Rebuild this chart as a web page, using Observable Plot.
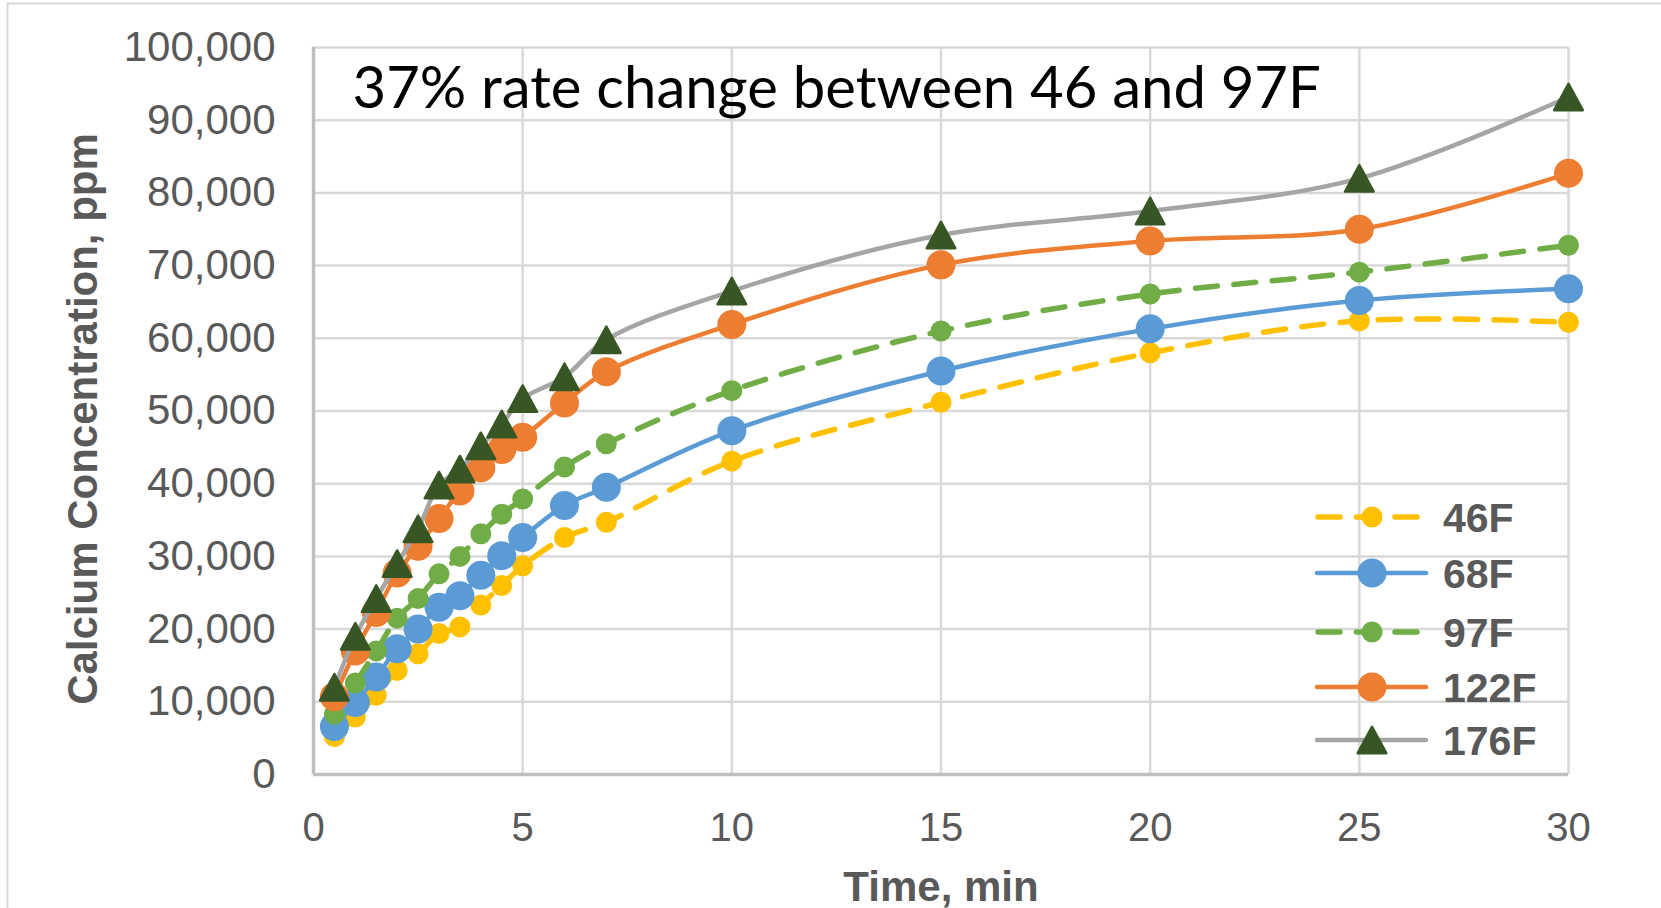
<!DOCTYPE html>
<html>
<head>
<meta charset="utf-8">
<script src="https://cdn.jsdelivr.net/npm/d3@7"></script>
<script src="https://cdn.jsdelivr.net/npm/@observablehq/plot@0.6"></script>
<style>
  html, body { margin: 0; padding: 0; background: white; }
  #chart { width: 1661px; height: 908px; }
</style>
</head>
<body>
<div id="chart"></div>
<script>
// ---- data ----
const titleText = "37% rate change between 46 and 97F";
const xLabel = "Time, min";
const yLabel = "Calcium Concentration, ppm";
const xTicks = [0, 5, 10, 15, 20, 25, 30];
const yTicks = [0, 10000, 20000, 30000, 40000, 50000, 60000, 70000, 80000, 90000, 100000];
const times = [0.5, 1, 1.5, 2, 2.5, 3, 3.5, 4, 4.5, 5, 6, 7, 10, 15, 20, 25, 30];
const seriesNames = ["46F", "68F", "97F", "122F", "176F"];
const ca46F  = [5200, 7900, 10900, 14300, 16600, 19400, 20300, 23300, 26000, 28700, 32600, 34700, 43100, 51200, 58000, 62400, 62200];
const ca68F  = [6600, 9900, 13400, 17300, 20000, 23000, 24600, 27400, 30100, 32600, 37000, 39500, 47300, 55500, 61300, 65200, 66800];
const ca97F  = [8300, 12600, 17000, 21500, 24200, 27600, 30000, 33100, 35800, 37900, 42300, 45500, 52800, 61000, 66100, 69100, 72800];
const ca122F = [10700, 17000, 22300, 27700, 31400, 35200, 39000, 42200, 44700, 46400, 51100, 55400, 61900, 70100, 73400, 75000, 82700];
const ca176F = [12000, 19000, 24200, 29000, 33800, 39800, 42000, 45200, 48200, 51700, 54700, 59800, 66500, 74200, 77500, 82000, 93200];

// ---- styles ----
const seriesValues = [ca46F, ca68F, ca97F, ca122F, ca176F];
const styles = {
  "46F":  {line: "#FFC000", marker: "#FFC000", dash: "22,16.5", width: 5.5, symbol: "circle", r: 10.5},
  "68F":  {line: "#5B9BD5", marker: "#5B9BD5", dash: null, width: 4.5, symbol: "circle", r: 14.5},
  "97F":  {line: "#70AD47", marker: "#70AD47", dash: "22,16.5", width: 5.5, symbol: "circle", r: 10.5},
  "122F": {line: "#ED7D31", marker: "#ED7D31", dash: null, width: 4.5, symbol: "circle", r: 14.5},
  "176F": {line: "#A5A5A5", marker: "#375623", dash: null, width: 4.5, symbol: "triangle", r: 11}
};

// triangle centred on its bounding box (like Excel markers)
const boxTriangle = {
  draw(context, size) {
    const r = Math.sqrt(size / Math.PI);
    const hw = 1.3 * r, hh = 1.2 * r;
    context.moveTo(0, -hh);
    context.lineTo(hw, hh);
    context.lineTo(-hw, hh);
    context.closePath();
  }
};

const rows = [];
seriesNames.forEach((s, i) => {
  times.forEach((t, j) => rows.push({series: s, t, ca: seriesValues[i][j]}));
});

const seriesMarks = [];
seriesNames.forEach(s => {
  const st = styles[s];
  const d = rows.filter(r => r.series === s);
  seriesMarks.push(Plot.line(d, {
    x: "t", y: "ca", stroke: st.line, strokeWidth: st.width,
    strokeDasharray: st.dash || undefined, strokeLinecap: "round", strokeLinejoin: "round",
    curve: "catmull-rom"
  }));
  seriesMarks.push(Plot.dot(d, {
    x: "t", y: "ca", fill: st.marker, stroke: st.marker, strokeWidth: st.symbol === "triangle" ? 2.5 : 0,
    strokeLinejoin: "round",
    r: st.r, symbol: st.symbol === "triangle" ? boxTriangle : "circle"
  }));
});

const chart = Plot.plot({
  width: 1661,
  height: 908,
  marginLeft: 313,
  marginRight: 93,
  marginTop: 47,
  marginBottom: 134,
  style: {fontFamily: "'Liberation Sans', Arial, sans-serif", background: "white", overflow: "visible"},
  x: {domain: [0, 30]},
  y: {domain: [0, 100000]},
  marks: [
    Plot.gridX(xTicks, {stroke: "#D9D9D9", strokeOpacity: 1, strokeWidth: 2.5}),
    Plot.gridY(yTicks, {stroke: "#D9D9D9", strokeOpacity: 1, strokeWidth: 2.5}),
    Plot.ruleX([0], {stroke: "#BFBFBF", strokeWidth: 3.5}),
    Plot.ruleY([0], {stroke: "#BFBFBF", strokeWidth: 3.5}),
    Plot.axisX(xTicks, {tickSize: 0, tickPadding: 38, fontSize: 40, fill: "#595959", label: null}),
    Plot.axisY(yTicks, {tickSize: 0, tickPadding: 38, fontSize: 42, fill: "#595959", label: null, tickFormat: d3.format(",")}),
    ...seriesMarks,
    Plot.text([titleText], {text: d => d, frameAnchor: "top-left", dx: 39, dy: 42, textAnchor: "start", lineAnchor: "middle",
      fontSize: 58, fontFamily: "Lato, 'Open Sans', sans-serif", fill: "#000000"}),
    Plot.text([xLabel], {text: d => d, frameAnchor: "bottom", dy: 113, textAnchor: "middle", lineAnchor: "middle",
      fontSize: 42, fontWeight: "bold", fill: "#595959"}),
    Plot.text([yLabel], {text: d => d, frameAnchor: "left", dx: -230, dy: 8, rotate: -90, textAnchor: "middle", lineAnchor: "middle",
      fontSize: 42, fontWeight: "bold", fill: "#595959"})
  ]
});

document.getElementById("chart").appendChild(chart);

// ---- outer border & legend ----
const svg = d3.select(chart);
svg.insert("rect", ":first-child")
  .attr("x", 7.5).attr("y", 3.5).attr("width", 1700).attr("height", 1000)
  .attr("fill", "none").attr("stroke", "#D9D9D9").attr("stroke-width", 2);

const legendRows = [517, 573, 632, 687, 740];
const lg = svg.append("g").attr("class", "legend").attr("text-anchor", "start");
seriesNames.forEach((s, i) => {
  const st = styles[s];
  const y = legendRows[i];
  lg.append("line")
    .attr("x1", st.dash ? 1318 : 1317).attr("x2", 1426).attr("y1", y).attr("y2", y)
    .attr("stroke", st.line).attr("stroke-width", st.width)
    .attr("stroke-linecap", "round")
    .attr("stroke-dasharray", st.dash);
  if (st.symbol === "triangle") {
    lg.append("path")
      .attr("transform", `translate(1372,${y})`)
      .attr("d", d3.symbol(boxTriangle, Math.PI * st.r * st.r)())
      .attr("fill", st.marker).attr("stroke", st.marker).attr("stroke-width", 2.5).attr("stroke-linejoin", "round");
  } else {
    lg.append("circle").attr("cx", 1372).attr("cy", y).attr("r", st.r).attr("fill", st.marker);
  }
  lg.append("text")
    .attr("x", 1443).attr("y", y).attr("dy", "0.36em")
    .attr("text-anchor", "start")
    .attr("font-size", 41).attr("font-weight", "bold").attr("fill", "#595959")
    .attr("font-family", "'Liberation Sans', Arial, sans-serif")
    .text(s);
});
</script>
</body>
</html>
